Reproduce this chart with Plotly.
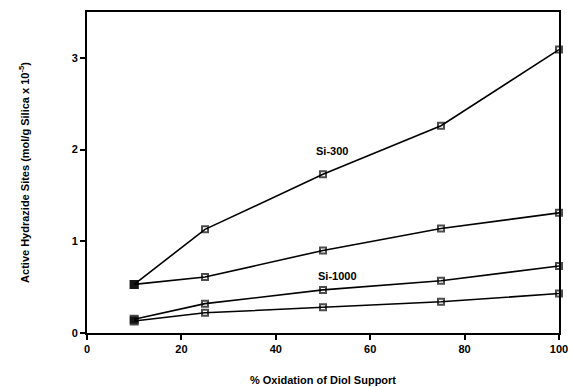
import plotly.graph_objects as go

x_vals = [10, 25, 50, 75, 100]
si300_a = [0.53, 1.13, 1.73, 2.26, 3.09]
si300_b = [0.53, 0.61, 0.90, 1.14, 1.31]
si1000_a = [0.15, 0.32, 0.47, 0.57, 0.73]
si1000_b = [0.13, 0.22, 0.28, 0.34, 0.43]
x_ticks = [0, 20, 40, 60, 80, 100]
y_ticks = [0, 1, 2, 3]

font_family = "Liberation Sans, Arial, sans-serif"
syms = ["square", "square-open", "square-open", "square-open", "square-open"]

fig = go.Figure()
for ys in [si300_a, si300_b, si1000_a, si1000_b]:
    fig.add_trace(go.Scatter(
        x=x_vals, y=ys, mode="lines+markers",
        line=dict(color="black", width=1.6),
        marker=dict(symbol=syms, size=[7, 6, 6, 6, 6], color="black",
                    line=dict(color="black", width=2)),
        showlegend=False, cliponaxis=False))

fig.add_annotation(x=52, y=1.98, text="<b>Si-300</b>", showarrow=False,
                   font=dict(family=font_family, size=11, color="black"))
fig.add_annotation(x=53, y=0.62, text="<b>Si-1000</b>", showarrow=False,
                   font=dict(family=font_family, size=11, color="black"))

fig.update_layout(
    width=570, height=387,
    margin=dict(l=87, r=11, t=12, b=54, autoexpand=False),
    paper_bgcolor="white", plot_bgcolor="white",
    font=dict(family=font_family, color="black"),
    xaxis=dict(range=[0, 100], tickvals=x_ticks,
               ticktext=[f"<b>{v}</b>" for v in x_ticks], ticks="outside", ticklen=5,
               tickwidth=1.5, tickcolor="black", showgrid=False, zeroline=False, showline=True,
               linecolor="black", linewidth=2, mirror=True, automargin=False,
               tickfont=dict(size=11, family=font_family, color="black"),
               title=dict(text="<b>% Oxidation of Diol Support</b>",
                          font=dict(size=11, color="black"), standoff=22)),
    yaxis=dict(range=[0, 3.5], tickvals=y_ticks,
               ticktext=[f"<b>{v}</b>" for v in y_ticks], ticks="outside", ticklen=5,
               tickwidth=1.5, tickcolor="black", showgrid=False, zeroline=False, showline=True,
               linecolor="black", linewidth=2, mirror=True, automargin=False,
               tickfont=dict(size=11, family=font_family, color="black"),
               title=dict(text="<b>Active Hydrazide Sites (mol/g Silica x 10<sup>-5</sup>)</b>",
                          font=dict(size=11, color="black"), standoff=40)),
)

fig.write_html("out.html")
